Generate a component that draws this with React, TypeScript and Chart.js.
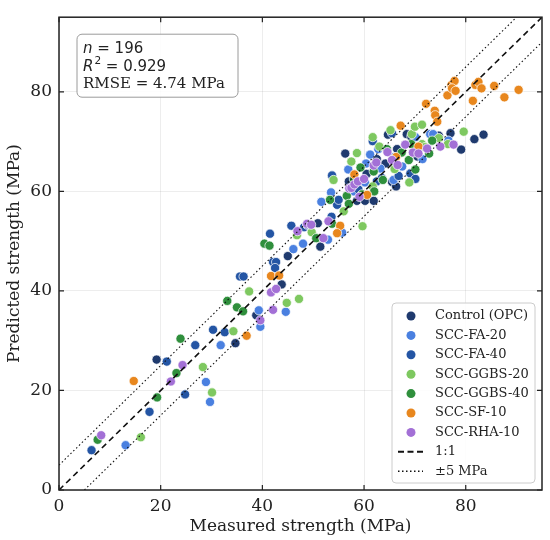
import React, { useEffect, useRef } from 'react';
import { Chart, registerables } from 'chart.js';

Chart.register(...registerables);

// group names + colours (legend order)
const groupNames = ['Control (OPC)', 'SCC-FA-20', 'SCC-FA-40', 'SCC-GGBS-20', 'SCC-GGBS-40', 'SCC-SF-10', 'SCC-RHA-10'];
const groupColors = ['#1f3a6e', '#4a80e0', '#2455a4', '#7ec860', '#2f8f3c', '#e8871e', '#a370d6'];

// [measured, predicted] in MPa
const controlPts = [
  [19.2, 26.2], [34.7, 29.5], [38.8, 35.1], [43.8, 41.3], [50.9, 53.6], [51.4, 48.9], [56.3, 67.6],
  [64.7, 71.4], [64.2, 65.6], [65.5, 61.9], [66.3, 61.0], [68.4, 71.5], [69.3, 71.0], [74.7, 71.2],
  [77.0, 71.7], [79.1, 68.4], [81.7, 70.5], [83.5, 71.4], [58.6, 58.1], [60.2, 58.1], [61.9, 58.1],
  [53.7, 63.1], [62.5, 66.5], [57.0, 62.0], [70.5, 67.0], [45.0, 47.0], [60.5, 63.5], [66.5, 68.5],
];
const fa20Pts = [
  [13.1, 9.0], [28.9, 21.7], [29.7, 17.7], [31.8, 29.1], [39.3, 36.1], [39.6, 32.8], [44.6, 35.8],
  [46.1, 48.4], [52.9, 50.3], [55.7, 51.7], [51.6, 57.9], [53.5, 59.8], [56.9, 64.4], [60.4, 65.6],
  [61.2, 67.4], [60.2, 61.8], [63.2, 64.6], [65.8, 62.3], [65.9, 66.9], [70.1, 70.9], [73.0, 71.5],
  [73.6, 71.5], [76.6, 70.2], [67.5, 65.0], [58.0, 60.0], [62.8, 68.5], [48.0, 49.5], [71.5, 66.5],
];
const fa40Pts = [
  [6.4, 8.0], [17.8, 15.7], [21.2, 25.8], [24.8, 19.2], [26.8, 29.1], [30.3, 32.2], [32.6, 31.7],
  [35.6, 42.9], [36.3, 42.9], [41.5, 51.5], [42.1, 45.8], [42.7, 45.8], [42.5, 44.6], [45.7, 53.1],
  [48.2, 52.8], [48.8, 53.3], [53.6, 54.9], [54.7, 57.3], [55.0, 58.3], [53.7, 63.2], [58.9, 60.4],
  [61.7, 70.1], [62.5, 62.0], [63.5, 62.7], [65.5, 71.7], [66.8, 63.1], [69.1, 63.6], [70.1, 62.5],
];
const ggbs20Pts = [
  [16.1, 10.6], [28.3, 24.7], [30.1, 19.6], [34.3, 31.9], [37.4, 39.9], [44.8, 37.6], [47.2, 38.4],
  [46.8, 51.2], [49.7, 51.8], [54.0, 62.3], [56.0, 56.0], [58.6, 67.7], [59.7, 53.0], [61.7, 70.9],
  [61.7, 61.0], [65.2, 72.3], [68.9, 61.8], [69.4, 71.5], [70.0, 73.0], [71.4, 73.4], [71.4, 69.5],
  [72.0, 68.9], [74.7, 70.7], [76.5, 69.5], [79.6, 72.0], [63.0, 69.0], [57.5, 66.0], [66.0, 64.5],
];
const ggbs40Pts = [
  [7.6, 10.1], [19.3, 18.6], [23.1, 23.5], [23.9, 30.4], [33.1, 38.0], [35.0, 36.7], [36.2, 35.9],
  [40.4, 49.5], [41.4, 49.1], [50.6, 50.6], [53.7, 53.5], [53.3, 58.3], [56.6, 59.1], [59.6, 59.4],
  [59.3, 64.8], [61.9, 64.0], [63.7, 62.3], [67.4, 67.8], [68.8, 66.3], [69.3, 69.5], [70.1, 64.4],
  [73.4, 70.2], [72.8, 67.6], [64.5, 68.5], [58.0, 62.5], [66.0, 66.0], [62.0, 60.0], [57.0, 57.5],
];
const sf10Pts = [
  [14.7, 21.9], [36.9, 31.0], [41.7, 43.0], [43.3, 43.1], [55.3, 53.1], [54.7, 51.6], [58.1, 63.4],
  [60.6, 59.3], [67.2, 73.2], [70.7, 69.0], [72.2, 77.6], [73.9, 76.2], [74.0, 75.3], [74.4, 74.0],
  [76.4, 79.3], [77.2, 81.4], [77.8, 82.2], [77.3, 80.7], [78.0, 80.2], [81.4, 78.2], [81.9, 81.4],
  [82.5, 82.0], [83.1, 80.7], [85.6, 81.2], [87.6, 78.9], [90.4, 80.4], [66.3, 66.9],
];
const rha10Pts = [
  [8.3, 11.0], [22.0, 21.8], [24.3, 25.1], [39.6, 34.1], [41.7, 39.7], [42.1, 36.2], [42.7, 40.4],
  [46.9, 52.0], [48.8, 53.5], [49.6, 53.3], [52.0, 50.6], [57.1, 60.6], [57.5, 60.7], [58.1, 61.4],
  [58.8, 62.0], [59.1, 58.9], [61.9, 65.2], [62.4, 65.8], [64.6, 67.9], [65.5, 66.3], [66.6, 65.3],
  [68.1, 69.4], [69.6, 67.8], [70.7, 67.6], [72.4, 68.6], [75.0, 69.0], [77.6, 69.4], [53.0, 54.0],
  [60.0, 62.5],
];
const groupPts = [controlPts, fa20Pts, fa40Pts, ggbs20Pts, ggbs40Pts, sf10Pts, rha10Pts];

const axisTicks = [0, 20, 40, 60, 80];
const axisMax = 95;
const bandOffset = 5;
const statN = 196;
const statR2 = '0.929';
const statRmse = '4.74';

const serif = '"DejaVu Serif", serif';
const sans = '"DejaVu Sans", sans-serif';

const decorPlugin = {
  id: 'decor',
  afterDraw(chart: any) {
    const { ctx, chartArea: a, scales } = chart;
    const xs = scales.x;
    const ys = scales.y;
    ctx.save();

    // inward ticks on all four sides
    ctx.strokeStyle = '#222';
    ctx.lineWidth = 1.2;
    ctx.beginPath();
    axisTicks.forEach((v) => {
      const px = xs.getPixelForValue(v);
      const py = ys.getPixelForValue(v);
      ctx.moveTo(px, a.bottom); ctx.lineTo(px, a.bottom - 5);
      ctx.moveTo(px, a.top); ctx.lineTo(px, a.top + 5);
      ctx.moveTo(a.left, py); ctx.lineTo(a.left + 5, py);
      ctx.moveTo(a.right, py); ctx.lineTo(a.right - 5, py);
    });
    ctx.stroke();

    // frame
    ctx.lineWidth = 1.5;
    ctx.strokeRect(a.left, a.top, a.right - a.left, a.bottom - a.top);

    // stats box
    const sx = a.left + 18;
    const sy = a.top + 17;
    ctx.beginPath();
    ctx.roundRect(sx, sy, 161, 63, 5);
    ctx.fillStyle = 'rgba(255,255,255,0.85)';
    ctx.fill();
    ctx.strokeStyle = '#9a9a9a';
    ctx.lineWidth = 1;
    ctx.stroke();

    ctx.fillStyle = '#222';
    ctx.textBaseline = 'alphabetic';
    ctx.textAlign = 'left';
    let tx = sx + 6;
    ctx.font = `italic 15px ${sans}`;
    ctx.fillText('n', tx, sy + 19);
    let w = ctx.measureText('n').width;
    ctx.font = `15px ${sans}`;
    ctx.fillText(` = ${statN}`, tx + w, sy + 19);

    ctx.font = `italic 15px ${sans}`;
    ctx.fillText('R', tx, sy + 37);
    w = ctx.measureText('R').width;
    ctx.font = `10.5px ${sans}`;
    ctx.fillText('2', tx + w + 1, sy + 30);
    const w2 = ctx.measureText('2').width;
    ctx.font = `15px ${sans}`;
    ctx.fillText(` = ${statR2}`, tx + w + w2 + 1, sy + 37);

    ctx.font = `15px ${serif}`;
    ctx.fillText(`RMSE = ${statRmse} MPa`, tx, sy + 54);

    // legend
    const lx = 392;
    const ly = 303;
    ctx.beginPath();
    ctx.roundRect(lx, ly, 143, 180, 4);
    ctx.fillStyle = 'rgba(255,255,255,0.85)';
    ctx.fill();
    ctx.strokeStyle = '#cccccc';
    ctx.stroke();

    const rowH = 19.4;
    ctx.font = `13px ${serif}`;
    ctx.textBaseline = 'middle';
    groupNames.forEach((name, i) => {
      const ry = ly + 13 + i * rowH;
      ctx.beginPath();
      ctx.arc(lx + 19, ry, 4.5, 0, Math.PI * 2);
      ctx.fillStyle = groupColors[i];
      ctx.fill();
      ctx.fillStyle = '#222';
      ctx.fillText(name, lx + 43, ry);
    });
    const lineRows = [
      { label: '1:1', dash: [6, 3.5], width: 2 },
      { label: '±5 MPa', dash: [1.5, 2.5], width: 1.6 },
    ];
    lineRows.forEach((r, j) => {
      const ry = ly + 13 + (groupNames.length + j) * rowH;
      ctx.beginPath();
      ctx.setLineDash(r.dash);
      ctx.lineWidth = r.width;
      ctx.strokeStyle = '#111';
      ctx.moveTo(lx + 6, ry);
      ctx.lineTo(lx + 31, ry);
      ctx.stroke();
      ctx.setLineDash([]);
      ctx.fillStyle = '#222';
      ctx.fillText(r.label, lx + 43, ry);
    });

    ctx.restore();
  },
};

export default function App() {
  const chartRef = useRef<HTMLCanvasElement>(null);
  const chartInstance = useRef<Chart | null>(null);

  useEffect(() => {
    if (!chartRef.current) return;
    const ctx = chartRef.current.getContext('2d');
    if (!ctx) return;
    if (chartInstance.current) chartInstance.current.destroy();

    const pointSets: any[] = groupPts.map((pts, i) => ({
      type: 'scatter',
      label: groupNames[i],
      data: pts.map(([x, y]) => ({ x, y })),
      backgroundColor: groupColors[i],
      borderColor: 'rgba(255,255,255,0.9)',
      borderWidth: 0.8,
      pointRadius: 4.6,
      order: 10 - i,
    }));

    const lineSets: any[] = [
      { offset: 0, dash: [6, 4], width: 1.6 },
      { offset: bandOffset, dash: [1.5, 2.5], width: 1.1 },
      { offset: -bandOffset, dash: [1.5, 2.5], width: 1.1 },
    ].map((l) => ({
      type: 'line',
      label: '',
      data: [
        { x: Math.max(0, -l.offset), y: Math.max(0, l.offset) },
        { x: Math.min(axisMax, axisMax - l.offset), y: Math.min(axisMax, axisMax + l.offset) },
      ],
      borderColor: '#111',
      borderWidth: l.width,
      borderDash: l.dash,
      pointRadius: 0,
      fill: false,
      order: 0,
    }));

    chartInstance.current = new Chart(ctx, {
      type: 'scatter',
      data: { datasets: [...lineSets, ...pointSets] },
      options: {
        animation: false,
        responsive: true,
        maintainAspectRatio: false,
        events: [],
        layout: { padding: { top: 7, right: 8, left: 0, bottom: 0 } },
        plugins: { legend: { display: false }, tooltip: { enabled: false } },
        scales: {
          x: {
            type: 'linear',
            min: 0,
            max: axisMax,
            afterBuildTicks: (s: any) => { s.ticks = axisTicks.map((v) => ({ value: v })); },
            afterFit: (s: any) => { s.height = 50; },
            grid: { color: 'rgba(0,0,0,0.07)', drawTicks: false },
            border: { display: false },
            ticks: { color: '#222', padding: 6, font: { family: serif, size: 17 } },
            title: {
              display: true,
              text: 'Measured strength (MPa)',
              color: '#222',
              font: { family: serif, size: 17 },
              padding: { top: 0, bottom: 3 },
            },
          },
          y: {
            type: 'linear',
            min: 0,
            max: axisMax,
            afterBuildTicks: (s: any) => { s.ticks = axisTicks.map((v) => ({ value: v })); },
            afterFit: (s: any) => { s.width = 59; },
            grid: { color: 'rgba(0,0,0,0.07)', drawTicks: false },
            border: { display: false },
            ticks: { color: '#222', padding: 7, font: { family: serif, size: 17 } },
            title: {
              display: true,
              text: 'Predicted strength (MPa)',
              color: '#222',
              font: { family: serif, size: 17 },
              padding: { top: 4, bottom: 0 },
            },
          },
        },
      },
      plugins: [decorPlugin],
    } as any);

    return () => {
      if (chartInstance.current) {
        chartInstance.current.destroy();
        chartInstance.current = null;
      }
    };
  }, []);

  return (
    <div style={{ position: 'fixed', left: 0, top: 0, width: 550, height: 540, background: '#fff' }}>
      <canvas ref={chartRef}></canvas>
    </div>
  );
}
